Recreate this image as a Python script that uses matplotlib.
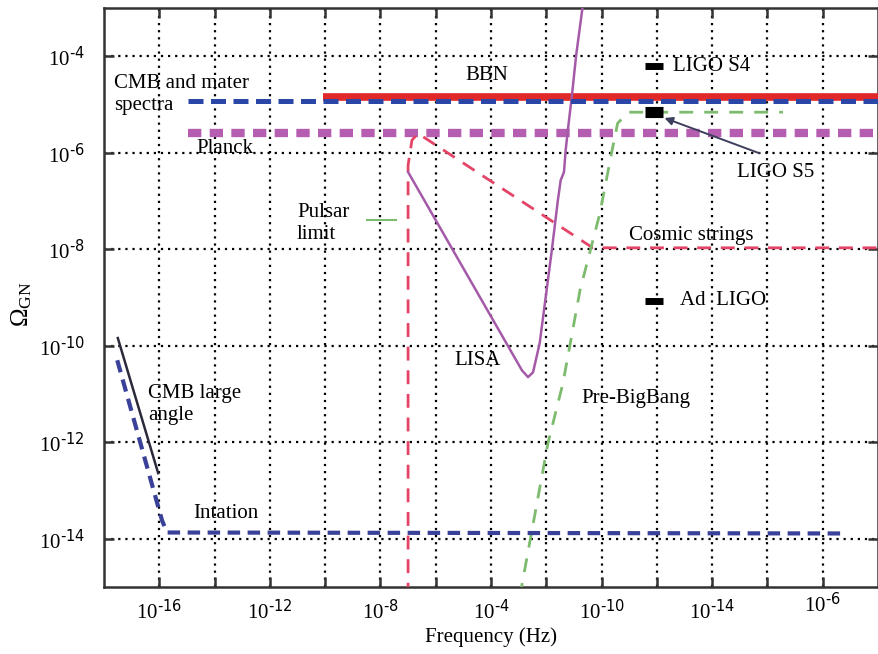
import matplotlib
matplotlib.use("Agg")
import matplotlib.pyplot as plt
import matplotlib.transforms as mtransforms

plt.rcParams['font.family'] = ['Liberation Serif', 'DejaVu Serif']
plt.rcParams['mathtext.default'] = 'regular'

# x axis is a plain index (one unit per grid column), labelled as in the source figure
x_ticks = list(range(1, 14))
x_label_pos = [1, 3, 5, 7, 9, 11, 13]
x_label_exp = [-16, -12, -8, -4, -10, -14, -6]
y_exps = [-14, -12, -10, -8, -6, -4]

# curves (x in grid units, y as log10(Omega))
spectra_x = [1.52, 14.0]
spectra_y = [-4.92, -4.92]
bbn_x = [3.96, 14.0]
bbn_y = [-4.85, -4.85]
planck_x = [1.52, 14.0]
planck_y = [-5.60, -5.60]

cosmic_x = [5.50, 5.50, 5.57, 5.68, 8.84, 14.0]
cosmic_y = [-15.2, -6.26, -5.74, -5.60, -7.97, -7.97]

lisa_x = [5.50, 7.56, 7.67, 7.76, 7.88, 8.10, 8.21, 8.26, 8.32, 8.35, 8.39, 8.46, 8.54, 8.66]
lisa_y = [-6.40, -10.51, -10.65, -10.55, -9.95, -8.02, -6.98, -6.57, -6.40, -5.95, -5.53,
          -4.85, -3.98, -2.95]

prebb_x = [7.52, 8.03, 8.30, 8.61, 8.97, 9.19, 9.29, 9.48, 12.28]
prebb_y = [-15.2, -12.02, -10.78, -8.85, -7.25, -5.95, -5.39, -5.16, -5.16]

pulsar_x = [4.76, 5.28]
pulsar_y = [-7.40, -7.40]

cmb_large_x = [0.25, 0.98]
cmb_large_y = [-9.84, -12.64]
inflation_x = [0.24, 1.05, 1.14, 13.40]
inflation_y = [-10.30, -13.62, -13.87, -13.89]

ligo_x = [9.95, 9.95, 9.95]
ligo_y = [-4.21, -5.16, -9.08]
ligo_size = [5, 8, 5]


def p10(v):
    return [10.0 ** a for a in v]


def pow_label(e):
    # hyphen instead of a minus sign, as in the source
    return r'$10^{\text{%d}}$' % e


fig = plt.figure(figsize=(8.79, 6.54), dpi=100)
ax = fig.add_axes([0.1183, 0.1024, 0.8806, 0.8854])
ax.set_yscale('log')
ax.set_xlim(0, 14)
ax.set_ylim(1e-15, 1e-3)

# grid
for gx in x_ticks:
    ax.axvline(gx, color='black', lw=1.6, ls=(0, (1, 2.2)), zorder=1)
for e in y_exps:
    ax.axhline(10.0 ** e, color='black', lw=1.6, ls=(0, (1, 2.2)), zorder=1)

# bounds
ax.plot(bbn_x, p10(bbn_y), color='#e02828', lw=5.5, solid_capstyle='butt', zorder=3)
ax.plot(spectra_x, p10(spectra_y), color='#2a47a8', lw=3.6, dashes=(3.0, 1.5), zorder=4)
ax.plot(planck_x, p10(planck_y), color='#b55db0', lw=6, dashes=(1.6, 1.0), zorder=3)
ax.plot(cosmic_x, p10(cosmic_y), color='#e44466', lw=2.0, dashes=(5, 3.5), zorder=3)
ax.plot(lisa_x, p10(lisa_y), color='#a45aa8', lw=1.8, zorder=3)
ax.plot(prebb_x, p10(prebb_y), color='#7dbb6e', lw=2.0, dashes=(5, 4), zorder=3)
ax.plot(pulsar_x, p10(pulsar_y), color='#7dbb6e', lw=1.5, zorder=3)
ax.plot(cmb_large_x, p10(cmb_large_y), color='#2a2a3a', lw=1.8, zorder=3)
ax.plot(inflation_x, p10(inflation_y), color='#3a4199', lw=3.0, dashes=(3.0, 1.8), zorder=3)

for lx, ly, s in zip(ligo_x, ligo_y, ligo_size):
    ax.plot([lx], [10.0 ** ly], marker='_', ms=13, mew=s, color='black', zorder=5)

ax.annotate('', xy=(10.09, 10 ** -5.26), xytext=(11.90, 10 ** -6.03),
            arrowprops=dict(arrowstyle='-|>', color='#3e3e5e', lw=1.4,
                            mutation_scale=12), zorder=6)

fs = 15
ax.text(0.18, 10 ** -4.79, 'CMB and mater\nspectra', fontsize=fs, va='center', linespacing=1.25)
ax.text(6.93, 10 ** -4.39, 'BBN', fontsize=fs, ha='center', va='center')
ax.text(1.68, 10 ** -5.91, 'Planck', fontsize=fs, va='center')
ax.text(3.49, 10 ** -7.47, 'Pulsar\nlimit', fontsize=fs, va='center', linespacing=1.25)
ax.text(10.29, 10 ** -4.21, 'LIGO S4', fontsize=fs, va='center')
ax.text(11.45, 10 ** -6.40, 'LIGO S5', fontsize=fs, va='center')
ax.text(9.49, 10 ** -7.71, 'Cosmic strings', fontsize=fs, va='center')
ax.text(10.42, 10 ** -9.06, 'Ad  LIGO', fontsize=fs, va='center')
ax.text(0.80, 10 ** -11.22, 'CMB large\nangle', fontsize=fs, va='center', linespacing=1.25)
ax.text(1.61, 10 ** -13.47, 'Intation', fontsize=fs, va='center')
ax.text(6.33, 10 ** -10.30, 'LISA', fontsize=fs, va='center')
ax.text(8.64, 10 ** -11.09, 'Pre-BigBang', fontsize=fs, va='center')

# axes styling
ax.set_xticks(x_ticks)
ax.set_xticklabels(['' if t not in x_label_pos else pow_label(x_label_exp[x_label_pos.index(t)])
                    for t in x_ticks])
ax.set_yticks([10.0 ** e for e in y_exps])
ax.set_yticklabels([pow_label(e) for e in y_exps])
ax.minorticks_off()
ax.tick_params(direction='in', length=7, width=1.8, top=True, right=True,
               labelsize=15, color='#333333')
ax.tick_params(axis='x', pad=9)
ax.tick_params(axis='y', pad=14)
for sp in ax.spines.values():
    sp.set_linewidth(1.8)
    sp.set_color('#333333')

# the last frequency label sits a little higher in the source
lbl = ax.get_xticklabels()[12]
lbl.set_transform(lbl.get_transform() +
                  mtransforms.ScaledTranslation(0, 0.07, fig.dpi_scale_trans))

ax.set_xlabel('Frequency (Hz)', fontsize=fs, labelpad=3)
fig.text(0.025, 0.535, r'$\Omega_{GN}$', rotation=90, fontsize=18, ha='center', va='center')

fig.savefig('out.png', dpi=100)
